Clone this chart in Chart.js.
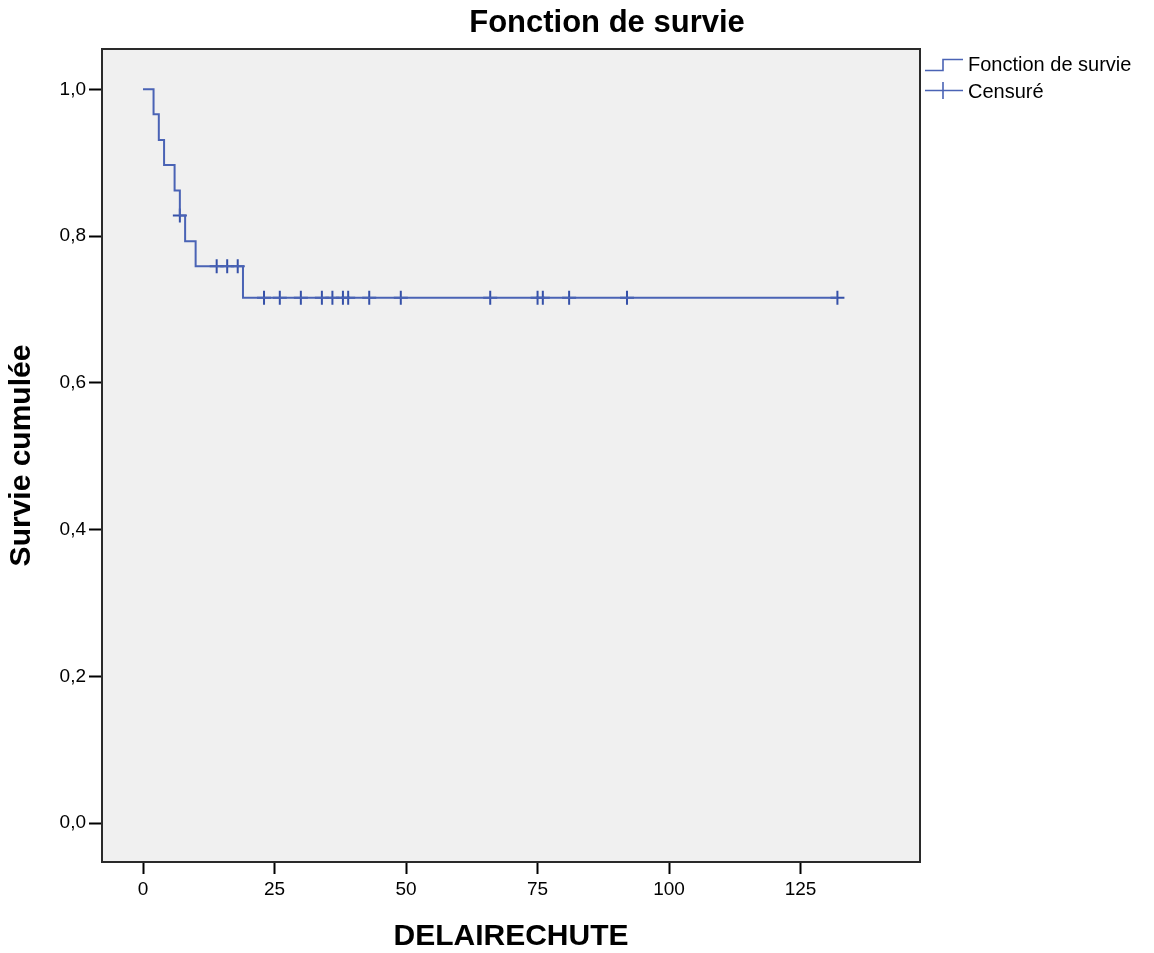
<!DOCTYPE html>
<html>
<head>
<meta charset="utf-8">
<title>Fonction de survie</title>
<script src="https://cdn.jsdelivr.net/npm/chart.js@4.4.1/dist/chart.umd.min.js"></script>
<style>
    html, body { margin: 0; padding: 0; background: #ffffff; }
    canvas { display: block; }
</style>
</head>
<body>
<canvas id="survivalChart" width="1154" height="953"></canvas>
<script>
// Kaplan-Meier steps
const survivalTimes = [0, 2, 3, 4, 6, 7, 8, 10, 19, 132];
const survivalValues = [1.0, 0.966, 0.931, 0.897, 0.862, 0.828, 0.793, 0.759, 0.716, 0.716];

// Censored observations (+ marks)
const censoredTimes = [7, 14, 16, 18, 23, 26, 30, 34, 36, 38, 39, 43, 49, 66, 75, 76, 81, 92, 132];
const censoredValues = [0.828, 0.759, 0.759, 0.759, 0.716, 0.716, 0.716, 0.716, 0.716, 0.716,
    0.716, 0.716, 0.716, 0.716, 0.716, 0.716, 0.716, 0.716, 0.716];

// Axis ticks
const xTicks = [0, 25, 50, 75, 100, 125];
const yTicks = [0, 0.2, 0.4, 0.6, 0.8, 1.0];

const chartTitle = 'Fonction de survie';
const legendLabels = ['Fonction de survie', 'Censuré'];
const xTitle = 'DELAIRECHUTE';
const yTitle = 'Survie cumulée';

const lineColor = '#4a63b5';
const markColor = '#3550a8';
const fontFamily = '"Liberation Sans", Arial, sans-serif';

// Grey plot background and black frame
const plotFrame = {
    id: 'plotFrame',
    beforeDraw(chart) {
        const { ctx, chartArea } = chart;
        ctx.save();
        ctx.fillStyle = '#f0f0f0';
        ctx.fillRect(chartArea.left, chartArea.top, chartArea.right - chartArea.left, chartArea.bottom - chartArea.top);
        ctx.restore();
    },
    afterDraw(chart) {
        const { ctx, chartArea } = chart;
        ctx.save();
        ctx.strokeStyle = '#2a2a2a';
        ctx.lineWidth = 2;
        ctx.strokeRect(chartArea.left, chartArea.top, chartArea.right - chartArea.left, chartArea.bottom - chartArea.top);
        ctx.restore();
    }
};

// Title and legend placed like the SPSS output
const titleAndLegend = {
    id: 'titleAndLegend',
    afterDraw(chart) {
        const { ctx, chartArea } = chart;
        ctx.save();
        ctx.fillStyle = '#000000';
        ctx.textBaseline = 'middle';
        ctx.textAlign = 'center';
        ctx.font = 'bold 31px ' + fontFamily;
        ctx.fillText(chartTitle, 607, 23);

        // legend icons
        const lx = chartArea.right + 5;
        ctx.strokeStyle = lineColor;
        ctx.lineWidth = 1.6;
        ctx.beginPath();
        ctx.moveTo(lx, 70.5);
        ctx.lineTo(lx + 18, 70.5);
        ctx.lineTo(lx + 18, 59.5);
        ctx.lineTo(lx + 38, 59.5);
        ctx.stroke();

        ctx.beginPath();
        ctx.moveTo(lx, 90.5);
        ctx.lineTo(lx + 38, 90.5);
        ctx.moveTo(lx + 18, 82);
        ctx.lineTo(lx + 18, 99);
        ctx.stroke();

        ctx.textAlign = 'left';
        ctx.font = '20px ' + fontFamily;
        ctx.fillText(legendLabels[0], lx + 43, 65);
        ctx.fillText(legendLabels[1], lx + 43, 92);
        ctx.restore();
    }
};

const ctx = document.getElementById('survivalChart').getContext('2d');
const survivalChart = new Chart(ctx, {
    type: 'line',
    data: {
        datasets: [{
            label: legendLabels[0],
            data: survivalTimes.map((t, i) => ({ x: t, y: survivalValues[i] })),
            borderColor: lineColor,
            borderWidth: 2,
            stepped: 'before',
            pointRadius: 0,
            fill: false
        }, {
            label: legendLabels[1],
            data: censoredTimes.map((t, i) => ({ x: t, y: censoredValues[i] })),
            showLine: false,
            pointStyle: 'cross',
            pointRadius: 7,
            pointBorderWidth: 2,
            borderColor: markColor,
            backgroundColor: markColor
        }]
    },
    options: {
        responsive: false,
        animation: false,
        devicePixelRatio: 1,
        layout: { padding: { top: 49, right: 234, bottom: 0, left: 0 } },
        plugins: {
            legend: { display: false },
            title: { display: false },
            tooltip: { enabled: false }
        },
        scales: {
            x: {
                type: 'linear',
                min: -7.8,
                max: 147.7,
                afterBuildTicks: scale => { scale.ticks = xTicks.map(v => ({ value: v })); },
                afterFit: scale => { scale.height = 91; },
                grid: { drawOnChartArea: false, drawTicks: true, tickLength: 12, tickWidth: 2, tickColor: '#000000' },
                border: { display: false },
                ticks: {
                    padding: 4,
                    color: '#000000',
                    font: { family: fontFamily, size: 19 },
                    maxRotation: 0,
                    callback: v => String(v)
                },
                title: {
                    display: true,
                    text: xTitle,
                    color: '#000000',
                    font: { family: fontFamily, size: 30, weight: 'bold', lineHeight: 1 },
                    padding: { top: 0, bottom: 1 }
                }
            },
            y: {
                type: 'linear',
                min: -0.053,
                max: 1.055,
                afterBuildTicks: scale => { scale.ticks = yTicks.map(v => ({ value: v })); },
                afterFit: scale => { scale.width = 102; },
                grid: { drawOnChartArea: false, drawTicks: true, tickLength: 13, tickWidth: 2, tickColor: '#000000' },
                border: { display: false },
                ticks: {
                    padding: 3,
                    color: '#000000',
                    font: { family: fontFamily, size: 19 },
                    callback: v => v.toFixed(1).replace('.', ',')
                },
                title: {
                    display: true,
                    text: yTitle,
                    color: '#000000',
                    font: { family: fontFamily, size: 30, weight: 'bold', lineHeight: 1 },
                    padding: { top: 7, bottom: 0 }
                }
            }
        }
    },
    plugins: [plotFrame, titleAndLegend]
});
</script>
</body>
</html>
